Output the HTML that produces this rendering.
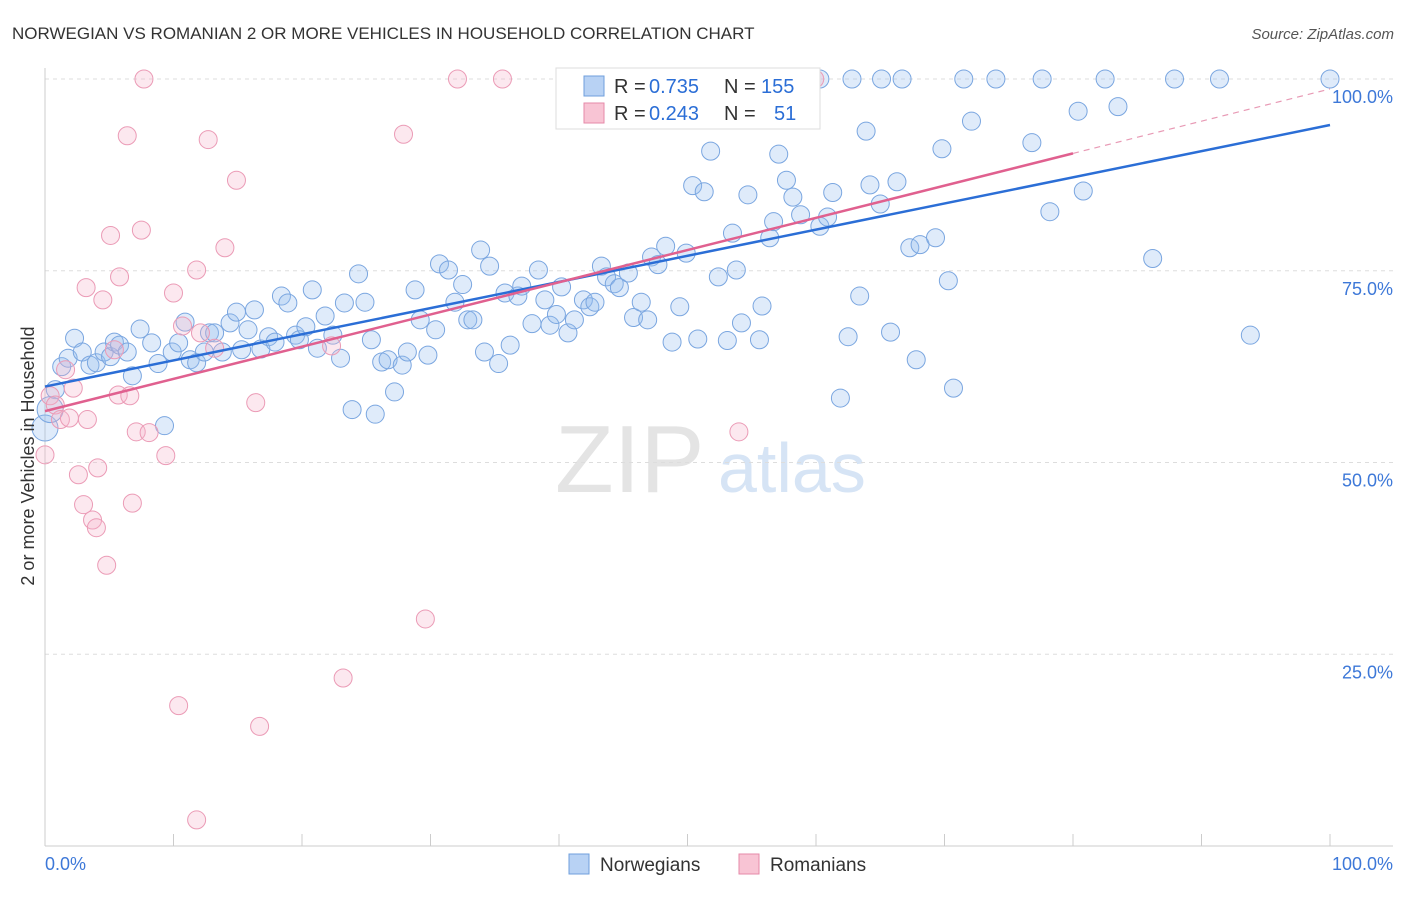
<!DOCTYPE html>
<html><head><meta charset="utf-8"><style>
body{margin:0;background:#fff;font-family:"Liberation Sans",sans-serif;}
svg text{font-family:"Liberation Sans",sans-serif;}
</style></head><body>
<svg id="chart" width="1406" height="892" xmlns="http://www.w3.org/2000/svg">
<text x="12" y="39" font-size="17" fill="#333">NORWEGIAN VS ROMANIAN 2 OR MORE VEHICLES IN HOUSEHOLD CORRELATION CHART</text>
<text x="1394" y="39" font-size="15" fill="#555" text-anchor="end" font-style="italic">Source: ZipAtlas.com</text>
<text x="555" y="492" font-size="96" fill="#e4e4e4" font-family="Liberation Serif">ZIP</text>
<text x="718" y="492" font-size="70" fill="#d6e4f5">atlas</text>
<g id="grid"></g><g id="axes"></g><g id="pts"></g><g id="trend"></g>
<text transform="translate(34,456) rotate(-90)" font-size="18" fill="#333" text-anchor="middle">2 or more Vehicles in Household</text>
<g>
<rect x="556" y="68" width="264" height="61" fill="#fff" stroke="#ddd"/>
<rect x="584" y="76" width="20" height="20" fill="#b8d2f4" stroke="#6f9fdc"/>
<rect x="584" y="103" width="20" height="20" fill="#f8c4d4" stroke="#e68aa8"/>
<text x="614" y="93" font-size="20" fill="#333">R =</text>
<text x="649" y="93" font-size="20" fill="#2b6ed6">0.735</text>
<text x="724" y="93" font-size="20" fill="#333">N =</text>
<text x="761" y="93" font-size="20" fill="#2b6ed6">155</text>
<text x="614" y="120" font-size="20" fill="#333">R =</text>
<text x="649" y="120" font-size="20" fill="#2b6ed6">0.243</text>
<text x="724" y="120" font-size="20" fill="#333">N =</text>
<text x="774" y="120" font-size="20" fill="#2b6ed6">51</text>
</g>
<g>
<rect x="569" y="854" width="20" height="20" fill="#b8d2f4" stroke="#6f9fdc"/>
<text x="600" y="871" font-size="19" fill="#333">Norwegians</text>
<rect x="739" y="854" width="20" height="20" fill="#f8c4d4" stroke="#e68aa8"/>
<text x="770" y="871" font-size="19" fill="#333">Romanians</text>
</g>
</svg>
<script>
const yTicks=[25,50,75,100];
const yTickLabels=["25.0%","50.0%","75.0%","100.0%"];
const xTickLabels=["0.0%","100.0%"];
const blueX=[0.8,1.3,1.8,2.3,2.9,3.5,4.0,4.6,5.1,5.4,5.8,6.4,6.8,7.4,8.3,8.8,9.3,9.9,10.4,10.9,11.3,11.8,12.4,12.8,13.2,13.8,14.4,14.9,15.3,15.8,16.3,16.8,17.4,17.9,18.4,18.9,19.5,19.8,20.3,20.8,21.2,21.8,22.4,23.0,23.3,23.9,24.4,24.9,25.4,25.7,26.2,26.7,27.2,27.8,28.2,28.8,29.2,29.8,30.4,30.7,31.4,31.9,32.5,32.9,33.3,33.9,34.2,34.6,35.3,35.8,36.2,36.8,37.1,37.9,38.4,38.9,39.3,39.8,40.2,40.7,41.2,41.9,42.4,42.8,43.3,43.7,44.3,44.7,45.4,45.8,46.4,46.9,47.2,47.7,48.3,48.8,49.4,49.9,50.4,50.8,51.3,51.8,52.4,53.1,53.5,53.8,54.2,54.7,55.8,55.6,56.4,56.7,57.1,57.7,58.2,58.8,60.3,60.3,60.9,61.3,61.9,62.5,62.8,63.4,63.9,64.2,65.0,65.1,65.8,66.3,66.7,67.3,67.8,68.1,69.3,69.8,70.3,70.7,71.5,72.1,74.0,76.8,77.6,78.2,80.4,80.8,82.5,83.5,86.2,87.9,91.4,93.8,100,0,0.4];
const blueY=[59.5,62.5,63.6,66.2,64.4,62.7,63.0,64.4,63.8,65.7,65.3,64.4,61.3,67.4,65.6,62.9,54.8,64.4,65.6,68.3,63.4,63.0,64.4,66.9,66.9,64.4,68.2,69.6,64.7,67.3,69.9,64.8,66.4,65.7,71.7,70.8,66.6,66.0,67.7,72.5,64.9,69.1,66.6,63.6,70.8,56.9,74.6,70.9,66.0,56.3,63.1,63.4,59.2,62.7,64.4,72.5,68.6,64.0,67.3,75.9,75.1,70.9,73.2,68.6,68.6,77.7,64.4,75.6,62.9,72.1,65.3,71.7,73.0,68.1,75.1,71.2,67.9,69.3,72.9,66.9,68.6,71.2,70.3,70.9,75.6,74.2,73.3,72.8,74.7,68.9,70.9,68.6,76.8,75.8,78.2,65.7,70.3,77.3,86.1,66.1,85.3,90.6,74.2,65.9,79.9,75.1,68.2,84.9,70.4,66.0,79.3,81.4,90.2,86.8,84.6,82.3,100,80.8,82.0,85.2,58.4,66.4,100,71.7,93.2,86.2,83.7,100,67.0,86.6,100,78.0,63.4,78.4,79.3,90.9,73.7,59.7,100,94.5,100,91.7,100,82.7,95.8,85.4,100,96.4,76.6,100,100,66.6,100,54.5,56.9];
const pinkX=[0,0.4,0.8,1.2,1.6,1.9,2.2,2.6,3.0,3.2,3.3,3.7,4.0,4.1,4.5,4.8,5.1,5.4,5.7,5.8,6.4,6.6,6.8,7.1,7.5,7.7,8.1,9.4,10.0,10.4,10.7,11.8,11.8,12.1,12.7,13.2,14.0,14.9,16.4,16.7,22.3,23.2,27.9,29.6,32.1,35.6,54.0,59.9];
const pinkY=[51.0,58.7,57.5,55.6,62.1,55.8,59.7,48.4,44.5,72.8,55.6,42.5,41.5,49.3,71.2,36.6,79.6,64.7,58.8,74.2,92.6,58.7,44.7,54.0,80.3,100,53.9,50.9,72.1,18.3,67.8,3.4,75.1,66.9,92.1,64.9,78.0,86.8,57.8,15.6,65.2,21.9,92.8,29.6,100,100,54.0,100];
const blueTrend=[59.9,94.0];
const pinkTrend=[56.7,98.7];
const NS="http://www.w3.org/2000/svg";
const X=v=>45+v*12.85, Y=v=>846-v*7.67;
function mk(tag,attrs,parent){const e=document.createElementNS(NS,tag);for(const k in attrs)e.setAttribute(k,attrs[k]);document.getElementById(parent).appendChild(e);return e;}
yTicks.forEach((t,i)=>{
  const l=mk('line',{x1:45,x2:1393,y1:Y(t),y2:Y(t),stroke:'#ddd','stroke-dasharray':'4,4'},'grid');
  
  
  const tx=mk('text',{x:1393,y:Y(t)+24,'font-size':18,fill:'#3d78d8','text-anchor':'end'},'grid');
  tx.textContent=yTickLabels[i];
  
  
});
const ax=mk('line',{x1:45,x2:1393,y1:846,y2:846,stroke:'#ccc'},'axes');


const ay=mk('line',{x1:45,x2:45,y1:68,y2:846,stroke:'#ccc'},'axes');


for(let i=0;i<=10;i++){
  const t=mk('line',{x1:X(i*10),x2:X(i*10),y1:846,y2:834,stroke:'#ccc'},'axes');
  
  
}
[[0,'start',45],[100,'end',1393]].forEach((d,i)=>{
  const t=mk('text',{x:d[2],y:870,'font-size':18,fill:'#3d78d8','text-anchor':d[1]},'axes');
  t.textContent=xTickLabels[i];
  
  
});
blueX.forEach((x,i)=>{
  const big=x<0.5;
  const c=mk('circle',{cx:X(x),cy:Y(blueY[i]),r:big?13:9,fill:'rgba(150,188,238,0.3)',stroke:'#7aa6e0','stroke-width':1},'pts');
  
  
});
pinkX.forEach((x,i)=>{
  const c=mk('circle',{cx:X(x),cy:Y(pinkY[i]),r:9,fill:'rgba(245,180,202,0.3)',stroke:'#eb9bb6','stroke-width':1},'pts');
  
  
});
const bt=mk('line',{x1:X(0),y1:Y(blueTrend[0]),x2:X(100),y2:Y(blueTrend[1]),stroke:'#2b6ed6','stroke-width':2.5},'trend');


const p80=pinkTrend[0]+(pinkTrend[1]-pinkTrend[0])*0.8;
const pt=mk('line',{x1:X(0),y1:Y(pinkTrend[0]),x2:X(80),y2:Y(p80),stroke:'#e0608f','stroke-width':2.5},'trend');


const pd=mk('line',{x1:X(80),y1:Y(p80),x2:X(100),y2:Y(pinkTrend[1]),stroke:'#e89ab5','stroke-width':1.2,'stroke-dasharray':'6,5'},'trend');


</script>
</body></html>
